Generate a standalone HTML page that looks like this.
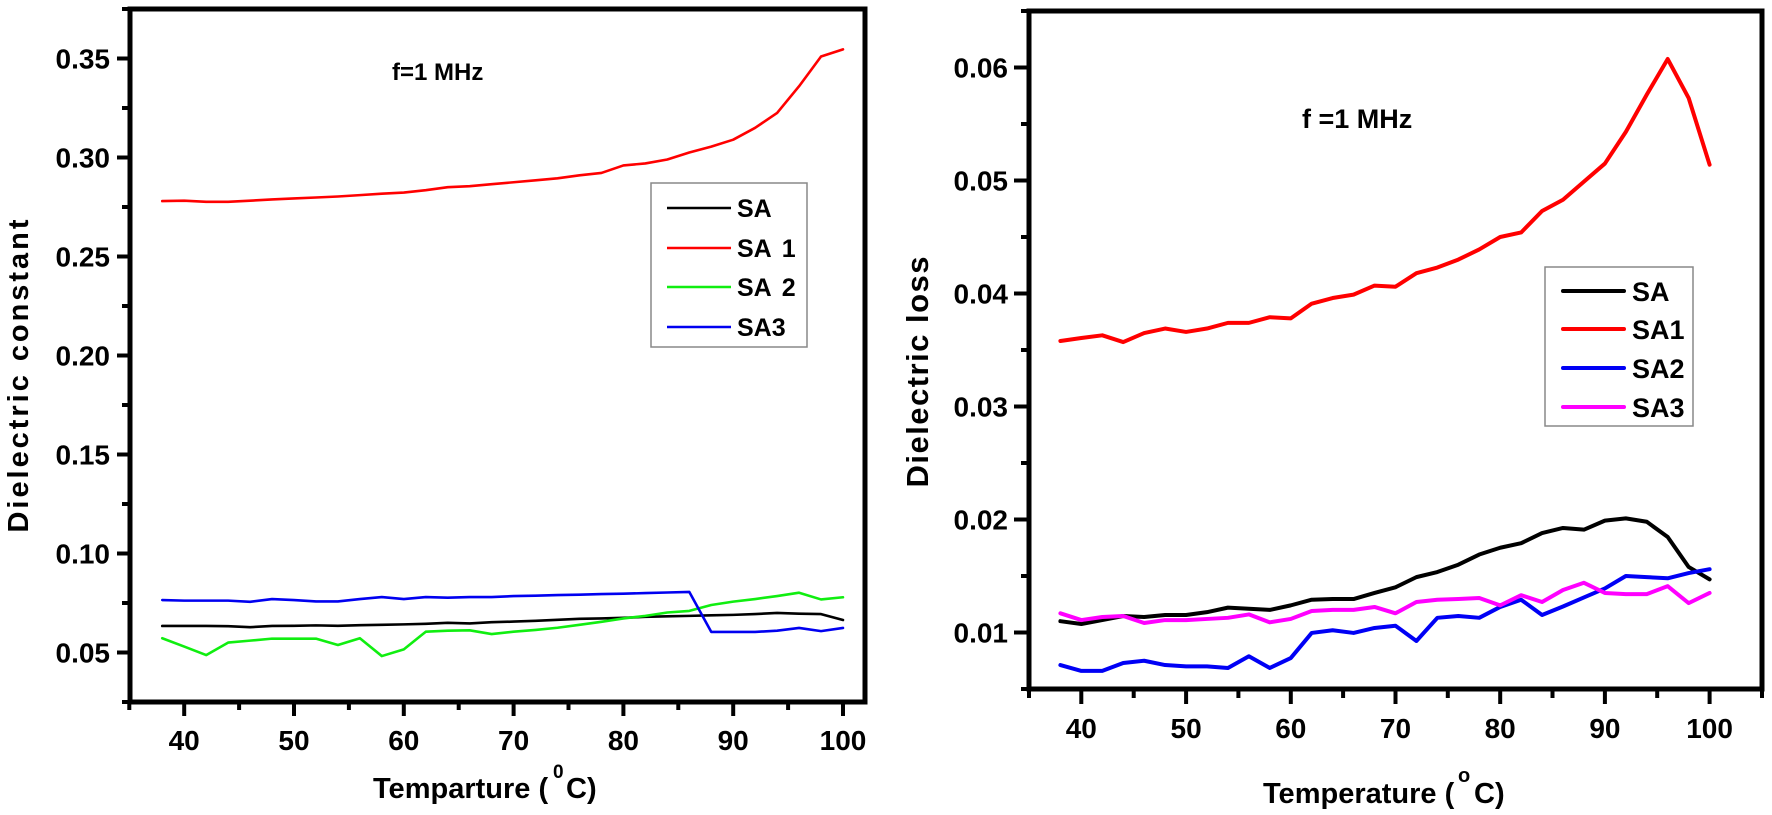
<!DOCTYPE html>
<html>
<head>
<meta charset="utf-8">
<style>
  html,body{margin:0;padding:0;background:#fff;}
  svg{display:block;}
  text{font-family:"Liberation Sans",Arial,sans-serif;font-weight:bold;fill:#000;}
</style>
</head>
<body>
<svg width="1772" height="815" viewBox="0 0 1772 815" xmlns="http://www.w3.org/2000/svg">
  <rect x="0" y="0" width="1772" height="815" fill="#fff"/>

  <!-- ================= LEFT CHART ================= -->
  <g stroke="#000" stroke-width="4" fill="none">
    <!-- y major ticks -->
    <line x1="117" y1="652.5" x2="130" y2="652.5"/>
    <line x1="117" y1="553.5" x2="130" y2="553.5"/>
    <line x1="117" y1="454.5" x2="130" y2="454.5"/>
    <line x1="117" y1="355.5" x2="130" y2="355.5"/>
    <line x1="117" y1="256.5" x2="130" y2="256.5"/>
    <line x1="117" y1="157.5" x2="130" y2="157.5"/>
    <line x1="117" y1="58.5" x2="130" y2="58.5"/>
    <!-- y minor ticks -->
    <line x1="122" y1="702" x2="130" y2="702"/>
    <line x1="122" y1="603" x2="130" y2="603"/>
    <line x1="122" y1="504" x2="130" y2="504"/>
    <line x1="122" y1="405" x2="130" y2="405"/>
    <line x1="122" y1="306" x2="130" y2="306"/>
    <line x1="122" y1="207" x2="130" y2="207"/>
    <line x1="122" y1="108" x2="130" y2="108"/>
    <line x1="122" y1="9" x2="130" y2="9"/>
    <!-- x major ticks -->
    <line x1="184.2" y1="702" x2="184.2" y2="716"/>
    <line x1="294" y1="702" x2="294" y2="716"/>
    <line x1="403.8" y1="702" x2="403.8" y2="716"/>
    <line x1="513.6" y1="702" x2="513.6" y2="716"/>
    <line x1="623.4" y1="702" x2="623.4" y2="716"/>
    <line x1="733.2" y1="702" x2="733.2" y2="716"/>
    <line x1="843" y1="702" x2="843" y2="716"/>
    <!-- x minor ticks -->
    <line x1="129.3" y1="702" x2="129.3" y2="710"/>
    <line x1="239.1" y1="702" x2="239.1" y2="710"/>
    <line x1="348.9" y1="702" x2="348.9" y2="710"/>
    <line x1="458.7" y1="702" x2="458.7" y2="710"/>
    <line x1="568.5" y1="702" x2="568.5" y2="710"/>
    <line x1="678.3" y1="702" x2="678.3" y2="710"/>
    <line x1="788.1" y1="702" x2="788.1" y2="710"/>
  </g>

  <!-- left data -->
  <g transform="matrix(10.98,0,0,-1.98,-255,751.5)" fill="none" stroke-linejoin="round" stroke-linecap="round">
    <polyline vector-effect="non-scaling-stroke" stroke="#000" stroke-width="2.6" points="38,63.4 40,63.4 42,63.4 44,63.3 46,62.8 48,63.4 50,63.5 52,63.7 54,63.5 56,63.8 58,64 60,64.2 62,64.5 64,65 66,64.7 68,65.3 70,65.6 72,66 74,66.5 76,67 78,67.2 80,67.5 82,68 84,68.3 86,68.5 88,68.8 90,69 92,69.4 94,70 96,69.6 98,69.4 100,66.4"/>
    <polyline vector-effect="non-scaling-stroke" stroke="#ff0000" stroke-width="2.6" points="38,278 40,278.2 42,277.6 44,277.6 46,278.2 48,278.8 50,279.3 52,279.8 54,280.3 56,281 58,281.7 60,282.3 62,283.5 64,285 66,285.5 68,286.5 70,287.5 72,288.5 74,289.5 76,291 78,292.2 80,296 82,297 84,299 86,302.5 88,305.5 90,309 92,315 94,322.5 96,336 98,351 100,354.6"/>
    <polyline vector-effect="non-scaling-stroke" stroke="#10ee10" stroke-width="2.6" points="38,57.2 40,53 42,48.7 44,55 46,56 48,57 50,57 52,57 54,53.8 56,57.2 58,48.2 60,51.6 62,60.5 64,61 66,61.2 68,59.3 70,60.5 72,61.4 74,62.5 76,64 78,65.5 80,67.2 82,68.5 84,70.2 86,71 88,74 90,75.7 92,77 94,78.5 96,80.2 98,76.8 100,77.9"/>
    <polyline vector-effect="non-scaling-stroke" stroke="#0000f0" stroke-width="2.6" points="38,76.5 40,76.2 42,76.2 44,76.2 46,75.6 48,77 50,76.5 52,75.8 54,75.8 56,77 58,78 60,77 62,78 64,77.7 66,78 68,78 70,78.5 72,78.7 74,79 76,79.2 78,79.5 80,79.7 82,80 84,80.3 86,80.6 88,60.4 90,60.4 92,60.4 94,61 96,62.4 98,60.8 100,62.4"/>
  </g>

  <rect x="130" y="9" width="735" height="693" fill="none" stroke="#000" stroke-width="5"/>

  <!-- left tick labels -->
  <g font-size="28" text-anchor="end">
    <text x="110" y="662.5">0.05</text>
    <text x="110" y="563.5">0.10</text>
    <text x="110" y="464.5">0.15</text>
    <text x="110" y="365.5">0.20</text>
    <text x="110" y="266.5">0.25</text>
    <text x="110" y="167.5">0.30</text>
    <text x="110" y="68.5">0.35</text>
  </g>
  <g font-size="28" text-anchor="middle">
    <text x="184.2" y="750">40</text>
    <text x="294" y="750">50</text>
    <text x="403.8" y="750">60</text>
    <text x="513.6" y="750">70</text>
    <text x="623.4" y="750">80</text>
    <text x="733.2" y="750">90</text>
    <text x="843" y="750">100</text>
  </g>

  <!-- left titles -->
  <text transform="translate(28,376) rotate(-90)" text-anchor="middle" font-size="29" textLength="313" lengthAdjust="spacing">Dielectric constant</text>
  <text x="373" y="798" font-size="29">Temparture (</text>
  <text x="553" y="778" font-size="19">0</text>
  <text x="566" y="798" font-size="29">C)</text>
  <text x="392" y="80" font-size="24">f=1 MHz</text>

  <!-- left legend -->
  <rect x="651" y="183" width="156" height="164" fill="#fff" stroke="#888" stroke-width="1.5"/>
  <g stroke-width="2.6">
    <line x1="667" y1="208" x2="731" y2="208" stroke="#000"/>
    <line x1="667" y1="248" x2="731" y2="248" stroke="#ff0000"/>
    <line x1="667" y1="287" x2="731" y2="287" stroke="#10ee10"/>
    <line x1="667" y1="327" x2="731" y2="327" stroke="#0000f0"/>
  </g>
  <g font-size="25">
    <text x="737" y="217">SA</text>
    <text x="737" y="257">SA<tspan dx="10">1</tspan></text>
    <text x="737" y="296">SA<tspan dx="10">2</tspan></text>
    <text x="737" y="336">SA3</text>
  </g>

  <!-- ================= RIGHT CHART ================= -->
  <g stroke="#000" stroke-width="4" fill="none">
    <!-- y major -->
    <line x1="1014" y1="632.5" x2="1029" y2="632.5"/>
    <line x1="1014" y1="519.5" x2="1029" y2="519.5"/>
    <line x1="1014" y1="406.5" x2="1029" y2="406.5"/>
    <line x1="1014" y1="293.5" x2="1029" y2="293.5"/>
    <line x1="1014" y1="180.5" x2="1029" y2="180.5"/>
    <line x1="1014" y1="67.5" x2="1029" y2="67.5"/>
    <!-- y minor -->
    <line x1="1021" y1="689" x2="1029" y2="689"/>
    <line x1="1021" y1="576" x2="1029" y2="576"/>
    <line x1="1021" y1="463" x2="1029" y2="463"/>
    <line x1="1021" y1="350" x2="1029" y2="350"/>
    <line x1="1021" y1="237" x2="1029" y2="237"/>
    <line x1="1021" y1="124" x2="1029" y2="124"/>
    <line x1="1021" y1="11" x2="1029" y2="11"/>
    <!-- x major -->
    <line x1="1081.3" y1="689" x2="1081.3" y2="704"/>
    <line x1="1186.1" y1="689" x2="1186.1" y2="704"/>
    <line x1="1290.8" y1="689" x2="1290.8" y2="704"/>
    <line x1="1395.5" y1="689" x2="1395.5" y2="704"/>
    <line x1="1500.2" y1="689" x2="1500.2" y2="704"/>
    <line x1="1604.9" y1="689" x2="1604.9" y2="704"/>
    <line x1="1709.6" y1="689" x2="1709.6" y2="704"/>
    <!-- x minor -->
    <line x1="1029" y1="689" x2="1029" y2="698"/>
    <line x1="1133.7" y1="689" x2="1133.7" y2="698"/>
    <line x1="1238.4" y1="689" x2="1238.4" y2="698"/>
    <line x1="1343.1" y1="689" x2="1343.1" y2="698"/>
    <line x1="1447.8" y1="689" x2="1447.8" y2="698"/>
    <line x1="1552.5" y1="689" x2="1552.5" y2="698"/>
    <line x1="1657.2" y1="689" x2="1657.2" y2="698"/>
    <line x1="1762" y1="689" x2="1762" y2="698"/>
  </g>

  <g transform="matrix(10.471,0,0,-11.3,662.5,745.5)" fill="none" stroke-linejoin="round" stroke-linecap="round">
    <polyline vector-effect="non-scaling-stroke" stroke="#000" stroke-width="4" points="38,11 40,10.75 42,11.1 44,11.46 46,11.37 48,11.55 50,11.55 52,11.8 54,12.2 56,12.1 58,12 60,12.4 62,12.9 64,12.96 66,12.96 68,13.5 70,14 72,14.9 74,15.35 76,16 78,16.9 80,17.5 82,17.9 84,18.8 86,19.25 88,19.1 90,19.9 92,20.1 94,19.8 96,18.45 98,15.8 100,14.7"/>
    <polyline vector-effect="non-scaling-stroke" stroke="#ff0000" stroke-width="4" points="38,35.8 40,36.06 42,36.3 44,35.7 46,36.5 48,36.9 50,36.6 52,36.9 54,37.4 56,37.4 58,37.9 60,37.8 62,39.1 64,39.6 66,39.9 68,40.7 70,40.6 72,41.8 74,42.3 76,43 78,43.9 80,45 82,45.4 84,47.3 86,48.3 88,49.9 90,51.5 92,54.3 94,57.6 96,60.75 98,57.3 100,51.4"/>
    <polyline vector-effect="non-scaling-stroke" stroke="#0000f5" stroke-width="4" points="38,7.12 40,6.6 42,6.6 44,7.3 46,7.5 48,7.12 50,7 52,7 54,6.86 56,7.9 58,6.86 60,7.74 62,9.96 64,10.2 66,9.96 68,10.4 70,10.6 72,9.25 74,11.3 76,11.46 78,11.3 80,12.26 82,12.9 84,11.55 86,12.3 88,13.1 90,13.9 92,15 94,14.9 96,14.8 98,15.26 100,15.6"/>
    <polyline vector-effect="non-scaling-stroke" stroke="#ff00ff" stroke-width="4" points="38,11.7 40,11.1 42,11.37 44,11.46 46,10.84 48,11.1 50,11.1 52,11.2 54,11.3 56,11.6 58,10.9 60,11.2 62,11.9 64,12 66,12 68,12.26 70,11.7 72,12.7 74,12.9 76,12.96 78,13.05 80,12.4 82,13.3 84,12.7 86,13.76 88,14.4 90,13.5 92,13.4 94,13.4 96,14.1 98,12.6 100,13.5"/>
  </g>

  <rect x="1029" y="11" width="733" height="678" fill="none" stroke="#000" stroke-width="5"/>

  <g font-size="28" text-anchor="end">
    <text x="1008" y="642.5">0.01</text>
    <text x="1008" y="529.5">0.02</text>
    <text x="1008" y="416.5">0.03</text>
    <text x="1008" y="303.5">0.04</text>
    <text x="1008" y="190.5">0.05</text>
    <text x="1008" y="77.5">0.06</text>
  </g>
  <g font-size="28" text-anchor="middle">
    <text x="1081.3" y="738">40</text>
    <text x="1186.1" y="738">50</text>
    <text x="1290.8" y="738">60</text>
    <text x="1395.5" y="738">70</text>
    <text x="1500.2" y="738">80</text>
    <text x="1604.9" y="738">90</text>
    <text x="1709.6" y="738">100</text>
  </g>

  <text transform="translate(928,372) rotate(-90)" text-anchor="middle" font-size="31" textLength="231" lengthAdjust="spacing">Dielectric loss</text>
  <text x="1263" y="803" font-size="29">Temperature (</text>
  <text x="1458" y="782" font-size="20">o</text>
  <text x="1474" y="803" font-size="29">C)</text>
  <text x="1302" y="128" font-size="27">f =1 MHz</text>

  <!-- right legend -->
  <rect x="1545" y="267" width="148" height="159" fill="#fff" stroke="#888" stroke-width="1.5"/>
  <g stroke-width="4" stroke-linecap="round">
    <line x1="1563" y1="291" x2="1624" y2="291" stroke="#000"/>
    <line x1="1563" y1="329" x2="1624" y2="329" stroke="#ff0000"/>
    <line x1="1563" y1="368" x2="1624" y2="368" stroke="#0000f5"/>
    <line x1="1563" y1="407" x2="1624" y2="407" stroke="#ff00ff"/>
  </g>
  <g font-size="27">
    <text x="1632" y="301">SA</text>
    <text x="1632" y="339">SA1</text>
    <text x="1632" y="378">SA2</text>
    <text x="1632" y="417">SA3</text>
  </g>
</svg>
</body>
</html>
